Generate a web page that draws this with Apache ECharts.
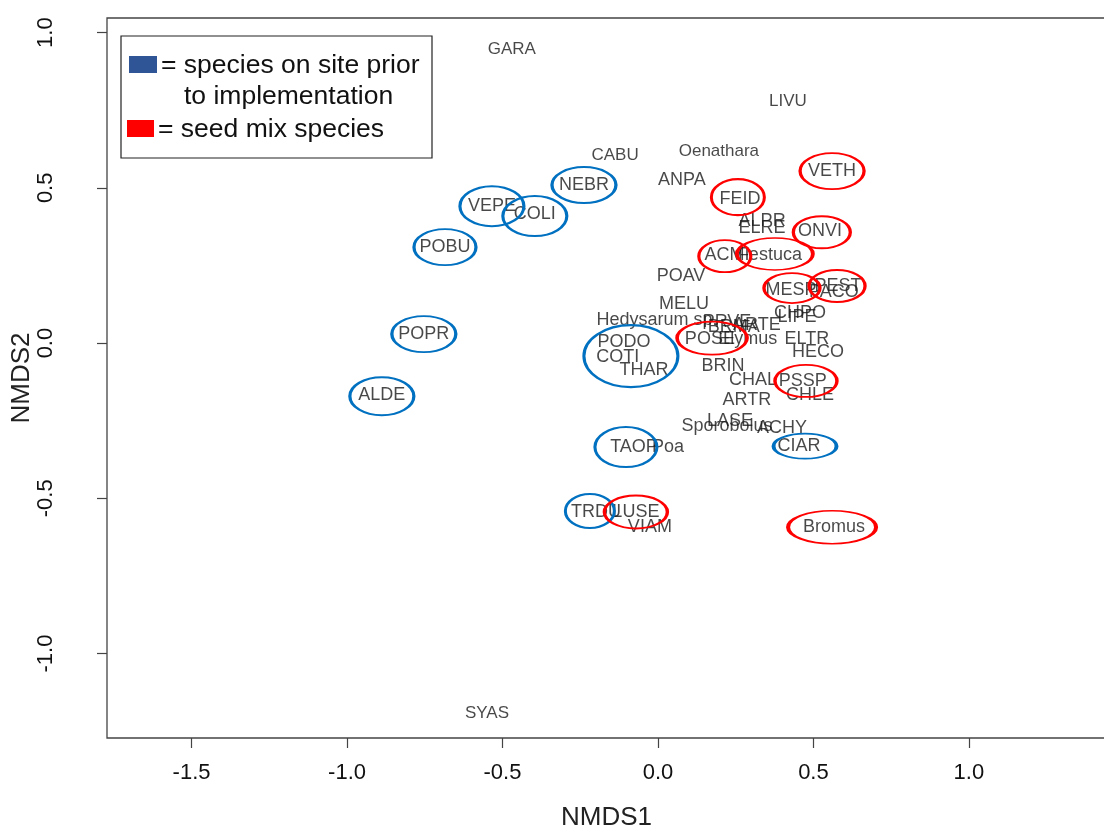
<!DOCTYPE html>
<html>
<head>
<meta charset="utf-8">
<script src="https://cdn.jsdelivr.net/npm/echarts@6/dist/echarts.min.js"></script>
<style>
html,body{margin:0;padding:0;background:#fff;}
#chart{width:1104px;height:831px;}
</style>
</head>
<body>
<div id="chart"></div>
<script>
// ---------------- DATA ----------------
const speciesNames = ["GARA","LIVU","CABU","Oenathara","VETH","ANPA","NEBR","FEID","VEPE","COLI",
  "ALPR","ELRE","ONVI","POBU","ACMI","Festuca","POAV","MESP","PEST","PACO",
  "MELU","CHPO","LIPE","Hedysarum sp.","PRVE","ARTE","BRMA","POSE","Elymus","ELTR",
  "HECO","PODO","COTI","THAR","POPR","BRIN","CHAL","PSSP","CHLE","ALDE",
  "ARTR","LASE","Sporobolus","ACHY","CIAR","TAOP","Poa","TRDU","LUSE","VIAM",
  "Bromus","SYAS"];
const speciesNMDS1 = [-0.470,0.418,-0.138,0.196,0.560,0.077,-0.238,0.264,-0.534,-0.396,
  0.335,0.335,0.521,-0.685,0.222,0.360,0.074,0.428,0.579,0.566,
  0.084,0.457,0.447,-0.003,0.222,0.318,0.244,0.167,0.289,0.479,
  0.515,-0.109,-0.129,-0.045,-0.753,0.209,0.306,0.466,0.489,-0.888,
  0.286,0.232,0.222,0.399,0.454,-0.077,0.032,-0.199,-0.071,-0.026,
  0.566,-0.550];
const speciesNMDS2 = [0.947,0.779,0.605,0.618,0.554,0.525,0.509,0.464,0.441,0.415,
  0.393,0.370,0.361,0.309,0.283,0.283,0.216,0.171,0.184,0.164,
  0.126,0.097,0.084,0.074,0.068,0.058,0.052,0.013,0.013,0.013,
  -0.029,0.003,-0.045,-0.087,0.029,-0.074,-0.119,-0.122,-0.167,-0.167,
  -0.184,-0.251,-0.267,-0.274,-0.332,-0.335,-0.335,-0.544,-0.544,-0.593,
  -0.593,-1.192];

// ellipses marking species groups (centres in NMDS units)
const priorNMDS1 = [-0.238,-0.534,-0.396,-0.685,-0.753,-0.888,-0.087,-0.103,0.473,-0.219];
const priorNMDS2 = [0.509,0.441,0.409,0.309,0.029,-0.171,-0.042,-0.335,-0.332,-0.541];
const seedNMDS1 = [0.560,0.257,0.527,0.215,0.376,0.431,0.576,0.174,0.476,-0.071,0.560];
const seedNMDS2 = [0.554,0.470,0.357,0.280,0.287,0.177,0.184,0.016,-0.122,-0.544,-0.593];

const xTicks = [-1.5,-1.0,-0.5,0.0,0.5,1.0];
const yTicks = [-1.0,-0.5,0.0,0.5,1.0];
const xTitle = "NMDS1";
const yTitle = "NMDS2";
const legendLine1 = "= species on site prior";
const legendLine2 = "to implementation";
const legendLine3 = "= seed mix species";

// ---------------- STYLE ----------------
const priorSizes = [[64,36],[64,40],[64,40],[62,36],[64,36],[64,38],[94,62],[62,40],[63,25],[49,34]];
const seedSizes = [[64,36],[53,36],[57,32],[52,32],[76,32],[56,30],[56,32],[70,33],[62,32],[63,33],[88,33]];
const smallLabels = new Set(["GARA","LIVU","CABU","Oenathara","SYAS"]);
const FONT = "Liberation Sans, Arial, sans-serif";
const BLUE = "#0070C0", RED = "#FF0000";

const chart = echarts.init(document.getElementById('chart'));

const labelData = speciesNames.map((n,i)=>({
  name:n, value:[speciesNMDS1[i], speciesNMDS2[i]],
  label:{fontSize: smallLabels.has(n) ? 17 : 18}
}));

function ellipseSeries(xs, ys, sizes, color){
  return {
    type:'scatter', silent:true, z:3,
    data: xs.map((x,i)=>[x, ys[i]]),
    symbol:'circle',
    symbolSize:(v,p)=>sizes[p.dataIndex],
    itemStyle:{color:'rgba(0,0,0,0)', borderColor:color, borderWidth:2.5, opacity:1},
    emphasis:{disabled:true}
  };
}

const fmt = v => (Math.round(v*10)/10).toFixed(1);

chart.setOption({
  animation:false,
  backgroundColor:'#fff',
  grid:{left:107, right:-2, top:18, bottom:93, show:true, borderColor:'#444', borderWidth:1.3,
        backgroundColor:'transparent', containLabel:false, outerBoundsMode:'none'},
  xAxis:{
    type:'value', min:-1.772, max:1.441,
    splitLine:{show:false},
    axisLine:{show:false, onZero:false},
    axisTick:{show:true, length:10, inside:false, customValues:xTicks, lineStyle:{color:'#444', width:1.2}},
    axisLabel:{show:true, customValues:xTicks, formatter:fmt, fontSize:22, color:'#111', fontFamily:FONT, margin:24},
    name:xTitle, nameLocation:'middle', nameGap:67, nameMoveOverlap:false,
    nameTextStyle:{fontSize:26, color:'#222', fontFamily:FONT}
  },
  yAxis:{
    type:'value', min:-1.272, max:1.047,
    splitLine:{show:false},
    axisLine:{show:false, onZero:false},
    axisTick:{show:true, length:10, inside:false, customValues:yTicks, lineStyle:{color:'#444', width:1.2}},
    axisLabel:{show:true, customValues:yTicks, formatter:fmt, fontSize:22, color:'#111', fontFamily:FONT, rotate:90, margin:50},
    name:yTitle, nameLocation:'middle', nameGap:72, nameMoveOverlap:false,
    nameTextStyle:{fontSize:26, color:'#222', fontFamily:FONT}
  },
  series:[
    {
      type:'scatter', silent:true, z:2,
      data:labelData,
      symbol:'circle', symbolSize:1,
      itemStyle:{color:'rgba(0,0,0,0)'},
      label:{show:true, position:'inside', formatter:'{b}', color:'#1a1a1a', fontFamily:FONT, fontSize:18},
      labelLayout:{hideOverlap:false},
      emphasis:{disabled:true}
    },
    ellipseSeries(priorNMDS1, priorNMDS2, priorSizes, BLUE),
    ellipseSeries(seedNMDS1, seedNMDS2, seedSizes, RED)
  ],
  graphic:[
    {type:'rect', shape:{x:121, y:36, width:311, height:122}, style:{fill:'#fff', stroke:'#222', lineWidth:1.2}, z:10},
    {type:'rect', shape:{x:129, y:56, width:28, height:17}, style:{fill:'#2F5597'}, z:11},
    {type:'rect', shape:{x:127, y:120, width:27, height:17}, style:{fill:'#FF0000'}, z:11},
    {type:'text', x:161, y:66, style:{text:legendLine1, fontSize:26.5, fontFamily:FONT, fill:'#111', verticalAlign:'middle'}, z:11},
    {type:'text', x:184, y:97, style:{text:legendLine2, fontSize:26.5, fontFamily:FONT, fill:'#111', verticalAlign:'middle'}, z:11},
    {type:'text', x:158, y:130, style:{text:legendLine3, fontSize:26.5, fontFamily:FONT, fill:'#111', verticalAlign:'middle'}, z:11}
  ]
});
</script>
</body>
</html>
